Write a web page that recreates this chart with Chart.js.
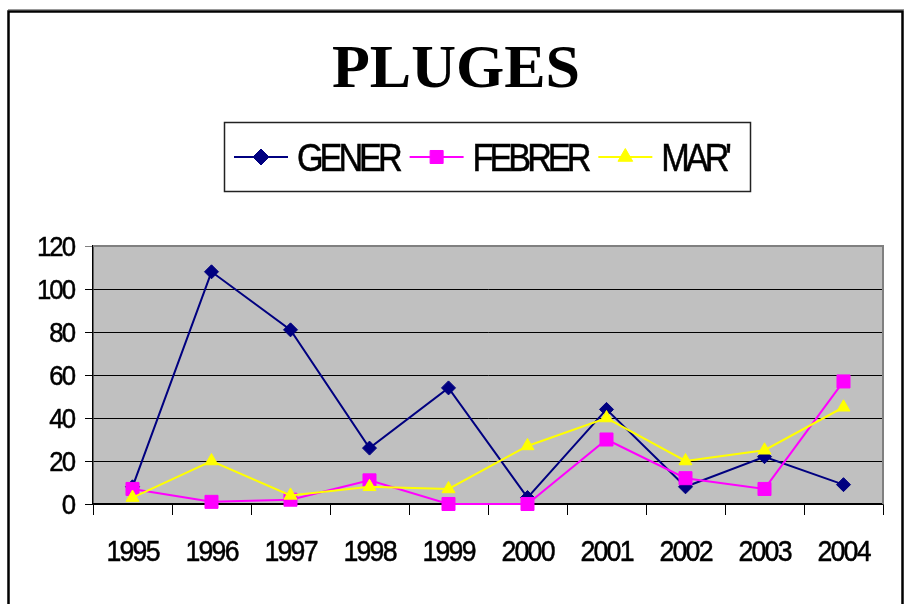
<!DOCTYPE html>
<html>
<head>
<meta charset="utf-8">
<script src="https://cdn.jsdelivr.net/npm/chart.js"></script>
<style>
  body { margin: 0; background: #fff; }
  canvas { display: block; }
</style>
</head>
<body>
<canvas id="pluges" width="910" height="604"></canvas>
<script>
// dades
const anys = ['1995', '1996', '1997', '1998', '1999', '2000', '2001', '2002', '2003', '2004'];
const gener = [8, 108, 81, 26, 54, 3, 44, 8, 22, 9];
const febrer = [7, 1, 2, 11, 0, 0, 30, 12, 7, 57];
const marc = [3, 20, 4, 8, 7, 27, 40, 20, 25, 45];
const nomsSeries = ['GENER', 'FEBRER', "MAR'"];
const yTicks = [0, 20, 40, 60, 80, 100, 120];
const titol = 'PLUGES';

const sansFont = '"Liberation Sans", Arial, sans-serif';

// text estret i atapeit (com l'original), lletra a lletra
function tightText(ctx, txt, x, y, size, sx, gap, align) {
  ctx.save();
  ctx.font = size + 'px ' + sansFont;
  ctx.fillStyle = '#000';
  ctx.strokeStyle = '#000';
  ctx.lineWidth = 0.5;
  ctx.textBaseline = 'alphabetic';
  ctx.textAlign = 'left';
  const chars = txt.split('');
  const adv = chars.map(c => ctx.measureText(c).width * sx);
  const total = adv.reduce((s, v) => s + v, 0) + gap * (chars.length - 1);
  let cx = x;
  if (align === 'right') cx = x - total;
  if (align === 'center') cx = x - total / 2;
  chars.forEach((c, i) => {
    ctx.save();
    ctx.translate(cx, y);
    ctx.scale(sx, 1);
    ctx.fillText(c, 0, 0);
    ctx.strokeText(c, 0, 0);
    ctx.restore();
    cx += adv[i] + gap;
  });
  ctx.restore();
  return total;
}

const decorPlugin = {
  id: 'decor',
  beforeDraw(chart) {
    const ctx = chart.ctx;
    const a = chart.chartArea;
    ctx.save();
    ctx.fillStyle = '#fff';
    ctx.fillRect(0, 0, chart.width, chart.height);
    // marc exterior
    ctx.strokeStyle = '#999';
    ctx.lineWidth = 1;
    ctx.beginPath();
    ctx.moveTo(8, 9.5); ctx.lineTo(904, 9.5);
    ctx.stroke();
    ctx.strokeStyle = '#000';
    ctx.lineWidth = 2.5;
    ctx.strokeRect(8.5, 11.5, 894, 620);
    // fons de l'area
    ctx.fillStyle = '#C0C0C0';
    ctx.fillRect(a.left, a.top, a.right - a.left, a.bottom - a.top);
    ctx.restore();
  },
  beforeDatasetsDraw(chart) {
    const ctx = chart.ctx;
    const a = chart.chartArea;
    ctx.save();
    ctx.strokeStyle = '#808080';
    ctx.lineWidth = 2;
    ctx.beginPath();
    ctx.moveTo(a.left, a.top);
    ctx.lineTo(a.right, a.top);
    ctx.lineTo(a.right, a.bottom);
    ctx.stroke();
    ctx.restore();
  },
  afterDraw(chart) {
    const ctx = chart.ctx;
    // titol
    ctx.save();
    ctx.font = 'bold 62px "Liberation Serif", "Times New Roman", serif';
    ctx.fillStyle = '#000';
    ctx.textAlign = 'center';
    ctx.textBaseline = 'alphabetic';
    ctx.fillText(titol, 456, 87);
    ctx.restore();

    // etiquetes eix Y
    const ys = chart.scales.y;
    ys.ticks.forEach((t, i) => {
      tightText(ctx, String(t.value), 76, ys.getPixelForTick(i) + 10, 28, 0.92, -2, 'right');
    });
    // etiquetes eix X
    const xs = chart.scales.x;
    xs.ticks.forEach((t, i) => {
      tightText(ctx, anys[i], xs.getPixelForTick(i) + 1, 561, 29, 0.92, -1.8, 'center');
    });

    // llegenda
    ctx.save();
    ctx.strokeStyle = '#222';
    ctx.lineWidth = 1.5;
    ctx.strokeRect(224.5, 122.5, 526, 69);
    ctx.restore();
    let x = 234;
    const ly = 157;
    chart.data.datasets.forEach((ds) => {
      ctx.save();
      ctx.strokeStyle = ds.borderColor;
      ctx.lineWidth = 2;
      ctx.beginPath();
      ctx.moveTo(x, ly);
      ctx.lineTo(x + 54, ly);
      ctx.stroke();
      ctx.fillStyle = ds.backgroundColor;
      ctx.strokeStyle = ds.borderColor;
      ctx.lineWidth = 1;
      Chart.helpers.drawPoint(ctx, {
        pointStyle: ds.pointStyle,
        radius: ds.legendRadius,
        borderWidth: 1,
        rotation: 0
      }, x + 27, ly);
      ctx.restore();
      const w = tightText(ctx, ds.label, x + 63, ly + 14, 38, 0.9, -4, 'left');
      x = x + 63 + w + 7;
    });
  }
};

new Chart(document.getElementById('pluges'), {
  type: 'line',
  data: {
    labels: anys,
    datasets: [
      {
        label: nomsSeries[0],
        data: gener,
        borderColor: '#000080',
        backgroundColor: '#000080',
        pointStyle: 'rectRot',
        pointRadius: 7,
        legendRadius: 8,
        order: 3
      },
      {
        label: nomsSeries[1],
        data: febrer,
        borderColor: '#FF00FF',
        backgroundColor: '#FF00FF',
        pointStyle: 'rect',
        pointRadius: 9.2,
        legendRadius: 9.2,
        order: 2
      },
      {
        label: nomsSeries[2],
        data: marc,
        borderColor: '#FFFF00',
        backgroundColor: '#FFFF00',
        pointStyle: 'triangle',
        pointRadius: 7.5,
        legendRadius: 8.5,
        order: 1
      }
    ]
  },
  options: {
    responsive: false,
    animation: false,
    devicePixelRatio: 1,
    layout: {
      autoPadding: false,
      padding: { left: 85, right: 27, top: 246, bottom: 89 }
    },
    datasets: {
      line: {
        borderWidth: 2,
        tension: 0,
        pointBorderWidth: 1,
        pointHoverRadius: 8,
        clip: false
      }
    },
    plugins: {
      legend: { display: false },
      title: { display: false },
      tooltip: { enabled: false }
    },
    scales: {
      x: {
        type: 'category',
        offset: true,
        grid: {
          offset: true,
          drawOnChartArea: false,
          drawTicks: true,
          tickLength: 11,
          color: '#000',
          lineWidth: 1
        },
        border: { display: true, color: '#000', width: 1.5 },
        ticks: { display: false },
        afterFit(s) { s.height = 11; }
      },
      y: {
        min: 0,
        max: 120,
        afterBuildTicks(s) { s.ticks = yTicks.map(v => ({ value: v })); },
        grid: {
          drawTicks: true,
          tickLength: 8,
          color: (c) => (c.tick && c.tick.value === 120 ? '#808080' : '#000'),
          lineWidth: 1
        },
        border: { display: true, color: '#000', width: 1.5 },
        ticks: { display: false },
        afterFit(s) { s.width = 8; }
      }
    }
  },
  plugins: [decorPlugin]
});
</script>
</body>
</html>
